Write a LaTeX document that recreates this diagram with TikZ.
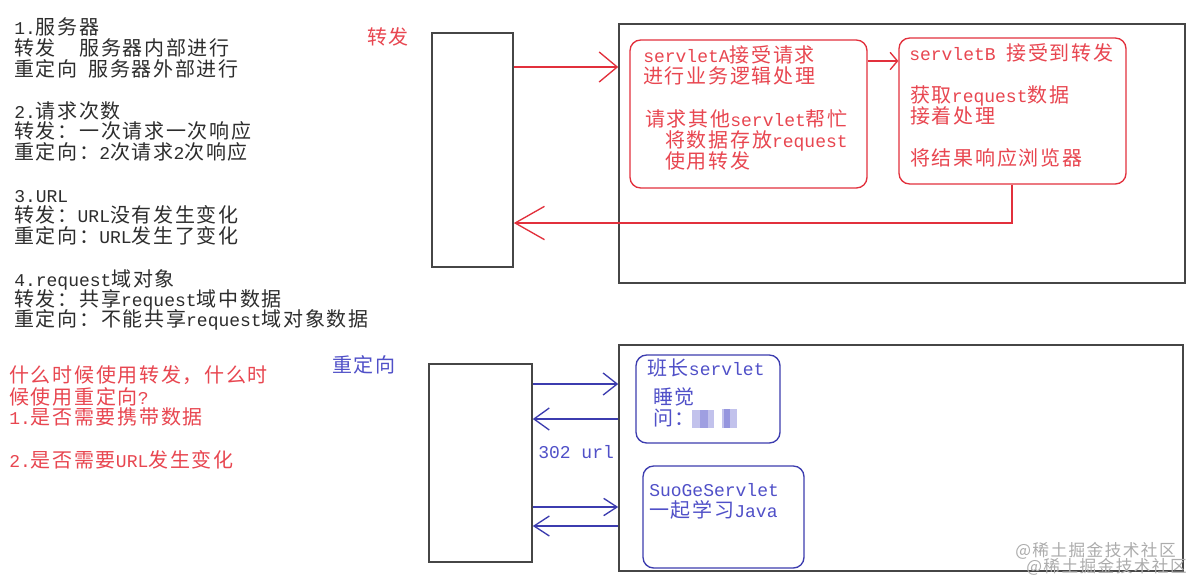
\documentclass[tikz,border=0pt]{standalone}
\usepackage{fontspec}
\setmainfont{Noto Sans CJK SC}[LetterSpace=8.5]
\newfontfamily\lat{Liberation Mono}[Scale=0.9]
\usetikzlibrary{arrows.meta,fit}
\definecolor{redc}{RGB}{226,48,60}
\definecolor{redt}{RGB}{232,70,80}
\definecolor{bluec}{RGB}{60,60,175}
\definecolor{bluet}{RGB}{80,80,200}
\definecolor{blackt}{RGB}{45,45,45}
\definecolor{framec}{RGB}{70,70,70}
\begin{document}
\begin{tikzpicture}[x=0.75pt,y=-0.75pt,
  txt/.style={anchor=base west,inner sep=0pt,font=\fontsize{15pt}{15pt}\selectfont},
  blk/.style={txt,text=blackt},
  rtx/.style={txt,text=redt},
  btx/.style={txt,text=bluet},
  wmk/.style={txt,text=gray!65,font=\fontsize{12.5pt}{12.5pt}\selectfont},
  frame/.style={draw=framec,line width=1.2pt,inner sep=0pt},
  rbox/.style={draw=#1,line width=1pt,rounded corners=8pt,inner sep=0pt},
  rarrow/.style={draw=redc,line width=1pt},
  barrow/.style={draw=bluec,line width=1pt}]
\useasboundingbox[fill=white] (0,0) rectangle (1196,579);

% ---------- left column text ----------
\node[blk] (t1) at (14,34.5) {{\lat 1.}服务器};
\node[blk] (t2) at (14,55.5) {转发　服务器内部进行};
\node[blk] (t3) at (14,76.5) {重定向{\lat\ }服务器外部进行};
\node[blk] (t4) at (14,118.5) {{\lat 2.}请求次数};
\node[blk] (t5) at (14,138.5) {转发：一次请求一次响应};
\node[blk] (t6) at (14,159.5) {重定向：{\lat 2}次请求{\lat 2}次响应};
\node[blk] (t7) at (14,202) {{\lat 3.URL}};
\node[blk] (t8) at (14,222.5) {转发：{\lat URL}没有发生变化};
\node[blk] (t9) at (14,243.5) {重定向：{\lat URL}发生了变化};
\node[blk] (t10) at (14,286.5) {{\lat 4.request}域对象};
\node[blk] (t11) at (14,306.5) {转发：共享{\lat request}域中数据};
\node[blk] (t12) at (14,326.5) {重定向：不能共享{\lat request}域对象数据};

\node[rtx] (q1) at (9,382.5) {什么时候使用转发，什么时};
\node[rtx] (q2) at (9,404.5) {候使用重定向{\lat ?}};
\node[rtx] (q3) at (9,424.5) {{\lat 1.}是否需要携带数据};
\node[rtx] (q4) at (9,467.5) {{\lat 2.}是否需要{\lat URL}发生变化};

% ---------- forward (top) ----------
\node[rtx] (lf) at (367,44.5) {转发};
\node[frame,fit={(432,33) (513,267)}] (b1) {};
\node[frame,fit={(619,24) (1185,283)}] (s1) {};
\node[rbox=redc,fit={(630,40) (867,188)}] (sA) {};
\node[rbox=redc,fit={(899,38) (1126,184)}] (sB) {};

\node[rtx] (a1) at (643,62.5) {{\lat servletA}接受请求};
\node[rtx] (a2) at (643,83.5) {进行业务逻辑处理};
\node[rtx] (a3) at (645,126.5) {请求其他{\lat servlet}帮忙};
\node[rtx] (a4) at (665,147.5) {将数据存放{\lat request}};
\node[rtx] (a5) at (665,168.5) {使用转发};

\node[rtx] (c1) at (909,60.5) {{\lat servletB\ }接受到转发};
\node[rtx] (c2) at (910,102.5) {获取{\lat request}数据};
\node[rtx] (c3) at (910,123.5) {接着处理};
\node[rtx] (c4) at (910,165.5) {将结果响应浏览器};

\coordinate (y1) at (0,67);
\coordinate (y2) at (0,61);
\coordinate (r) at (1012,223);
\draw[rarrow,-{Straight Barb[length=13.5pt,width=22.5pt]}] (b1.east |- y1) -- (s1.west |- y1);
\draw[rarrow,-{Straight Barb[length=5.5pt,width=13pt]}] (sA.east |- y2) -- (sB.west |- y2);
\draw[rarrow,-{Straight Barb[length=22pt,width=25pt]}] (sB.south -| r) |- (b1.east |- r);

% ---------- redirect (bottom) ----------
\node[btx] (lr) at (332,372.5) {重定向};
\node[frame,fit={(429,364) (532,562)}] (b2) {};
\node[frame,fit={(619,345) (1183,571)}] (s2) {};
\node[rbox=bluec,fit={(636,355) (780,443)}] (bz) {};
\node[rbox=bluec,fit={(643,466) (804,568)}] (sg) {};

\node[btx] (d1) at (647,375.5) {班长{\lat servlet}};
\node[btx] (d2) at (653,404.5) {睡觉};
\node[btx] (d3) at (653,425.5) {问：};
\fill[bluet!35] (692,410) rectangle (714,428);
\fill[bluet!55] (700,410) rectangle (708,428);
\fill[bluet!35] (722,409) rectangle (737,428);
\fill[bluet!60] (724,409) rectangle (730,428);

\node[btx] (e1) at (649,496.5) {{\lat SuoGeServlet}};
\node[btx] (e2) at (649,517.5) {一起学习{\lat Java}};
\node[btx] (u) at (538,458) {{\lat 302 url}};

\coordinate (z1) at (0,384);
\coordinate (z2) at (0,419);
\coordinate (z3) at (0,507);
\coordinate (z4) at (0,526);
\draw[barrow,-{Straight Barb[length=10.5pt,width=16.5pt]}] (b2.east |- z1) -- (s2.west |- z1);
\draw[barrow,-{Straight Barb[length=11.5pt,width=16.5pt]}] (s2.west |- z2) -- (b2.east |- z2);
\draw[barrow,-{Straight Barb[length=10pt,width=13pt]}] (b2.east |- z3) -- (s2.west |- z3);
\draw[barrow,-{Straight Barb[length=11.5pt,width=15pt]}] (s2.west |- z4) -- (b2.east |- z4);

% ---------- watermark ----------
\node[wmk] (w1) at (1015,556) {@稀土掘金技术社区};
\node[wmk] (w2) at (1026,572) {@稀土掘金技术社区};
\end{tikzpicture}
\end{document}
